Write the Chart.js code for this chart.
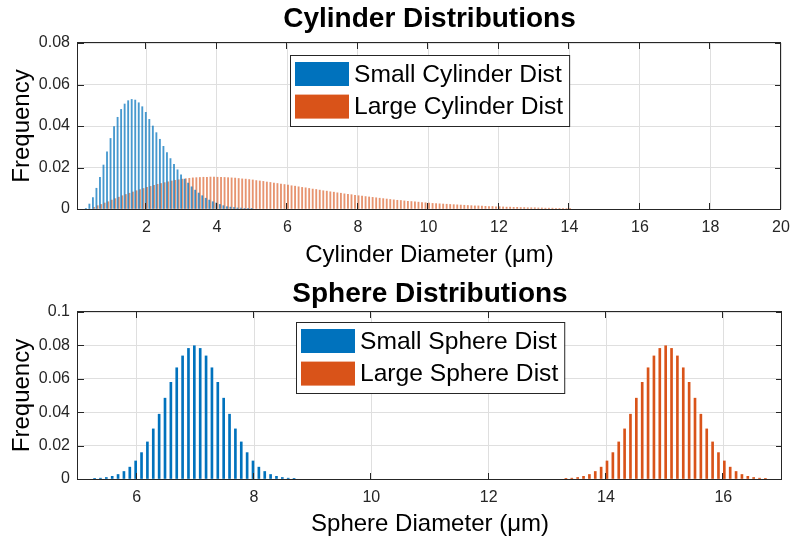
<!DOCTYPE html>
<html>
<head>
<meta charset="utf-8">
<script src="https://cdn.jsdelivr.net/npm/chart.js@4.4.1/dist/chart.umd.min.js"></script>
<style>
  html, body { margin: 0; padding: 0; background: #fff; }
  #wrap { position: relative; width: 800px; height: 549px; overflow: hidden; }
  canvas { position: absolute; left: 0; }
</style>
</head>
<body>
<div id="wrap">
  <canvas id="graficoCilindros" width="800" height="270" style="top:0;width:800px;height:270px"></canvas>
  <canvas id="graficoEsferas" width="800" height="279" style="top:270px;width:800px;height:279px"></canvas>
</div>
<script>
// ---- dados ----
const cylSmallX = [
  0.3,0.4,0.5,0.6,0.7,0.8,0.9,1.0,1.1,1.2,
  1.3,1.4,1.5,1.6,1.7,1.8,1.9,2.0,2.1,2.2,
  2.3,2.4,2.5,2.6,2.7,2.8,2.9,3.0,3.1,3.2,
  3.3,3.4,3.5,3.6,3.7,3.8,3.9,4.0,4.1,4.2,
  4.3,4.4,4.5,4.6,4.7,4.8,4.9,5.0
];
const cylSmallY = [
  0.0003,0.0024,0.0055,0.0100,0.0153,0.0212,0.0276,0.0340,0.0397,0.0442,
  0.0480,0.0506,0.0522,0.0528,0.0525,0.0512,0.0493,0.0466,0.0432,0.0400,
  0.0368,0.0336,0.0302,0.0272,0.0243,0.0215,0.0189,0.0165,0.0144,0.0125,
  0.0107,0.0091,0.0077,0.0064,0.0052,0.0043,0.0035,0.0029,0.0022,0.0016,
  0.0011,0.0009,0.0007,0.0005,0.0004,0.0003,0.0002,0.0001
];
const cylLargeX = [
  0.5,0.6,0.7,0.8,0.9,1.0,1.1,1.2,1.3,1.4,
  1.5,1.6,1.7,1.8,1.9,2.0,2.1,2.2,2.3,2.4,
  2.5,2.6,2.7,2.8,2.9,3.0,3.1,3.2,3.3,3.4,
  3.5,3.6,3.7,3.8,3.9,4.0,4.1,4.2,4.3,4.4,
  4.5,4.6,4.7,4.8,4.9,5.0,5.1,5.2,5.3,5.4,
  5.5,5.6,5.7,5.8,5.9,6.0,6.1,6.2,6.3,6.4,
  6.5,6.6,6.7,6.8,6.9,7.0,7.1,7.2,7.3,7.4,
  7.5,7.6,7.7,7.8,7.9,8.0,8.1,8.2,8.3,8.4,
  8.5,8.6,8.7,8.8,8.9,9.0,9.1,9.2,9.3,9.4,
  9.5,9.6,9.7,9.8,9.9,10.0,10.1,10.2,10.3,10.4,
  10.5,10.6,10.7,10.8,10.9,11.0,11.1,11.2,11.3,11.4,
  11.5,11.6,11.7,11.8,11.9,12.0,12.1,12.2,12.3,12.4,
  12.5,12.6,12.7,12.8,12.9,13.0,13.1,13.2,13.3,13.4,
  13.5,13.6,13.7,13.8,13.9,14.0
];
const cylLargeY = [
  0.0008,0.0016,0.0022,0.0029,0.0035,0.0043,0.0050,0.0057,0.0064,0.0070,
  0.0076,0.0082,0.0088,0.0093,0.0099,0.0104,0.0109,0.0114,0.0119,0.0123,
  0.0127,0.0131,0.0135,0.0138,0.0141,0.0144,0.0146,0.0148,0.0150,0.0151,
  0.0152,0.0153,0.0153,0.0154,0.0154,0.0153,0.0153,0.0152,0.0151,0.0150,
  0.0149,0.0147,0.0145,0.0144,0.0142,0.0140,0.0137,0.0135,0.0133,0.0130,
  0.0128,0.0125,0.0123,0.0120,0.0118,0.0115,0.0112,0.0110,0.0107,0.0104,
  0.0102,0.0099,0.0096,0.0094,0.0091,0.0088,0.0086,0.0083,0.0081,0.0078,
  0.0076,0.0073,0.0071,0.0069,0.0066,0.0064,0.0062,0.0060,0.0058,0.0056,
  0.0054,0.0052,0.0050,0.0048,0.0046,0.0044,0.0042,0.0041,0.0039,0.0037,
  0.0036,0.0034,0.0033,0.0031,0.0030,0.0029,0.0027,0.0026,0.0025,0.0024,
  0.0023,0.0022,0.0021,0.0020,0.0019,0.0018,0.0017,0.0016,0.0015,0.0015,
  0.0014,0.0013,0.0012,0.0012,0.0011,0.0011,0.0010,0.0009,0.0009,0.0008,
  0.0008,0.0007,0.0007,0.0006,0.0006,0.0006,0.0005,0.0005,0.0004,0.0004,
  0.0004,0.0003,0.0003,0.0003,0.0002,0.0002
];
const sphSmallX = [
  5.3,5.4,5.5,5.6,5.7,5.8,5.9,6.0,6.1,6.2,6.3,6.4,6.5,6.6,6.7,6.8,6.9,
  7.0,7.1,7.2,7.3,7.4,7.5,7.6,7.7,7.8,7.9,8.0,8.1,8.2,8.3,8.4,8.5,8.6,8.7
];
const sphSmallY = [
  0.0002,0.0005,0.0009,0.0016,0.0027,0.0045,0.0071,0.0108,0.0158,0.0222,0.0300,0.0388,0.0484,0.0579,0.0666,0.0737,0.0782,
  0.0798,0.0782,0.0737,0.0666,0.0579,0.0484,0.0388,0.0300,0.0222,0.0158,0.0108,0.0071,0.0045,0.0027,0.0016,0.0009,0.0005,0.0002
];
const sphLargeX = [
  13.3,13.4,13.5,13.6,13.7,13.8,13.9,14.0,14.1,14.2,14.3,14.4,14.5,14.6,14.7,14.8,14.9,
  15.0,15.1,15.2,15.3,15.4,15.5,15.6,15.7,15.8,15.9,16.0,16.1,16.2,16.3,16.4,16.5,16.6,16.7
];
const sphLargeY = [
  0.0002,0.0005,0.0009,0.0016,0.0027,0.0045,0.0071,0.0108,0.0158,0.0222,0.0300,0.0388,0.0484,0.0579,0.0666,0.0737,0.0782,
  0.0798,0.0782,0.0737,0.0666,0.0579,0.0484,0.0388,0.0300,0.0222,0.0158,0.0108,0.0071,0.0045,0.0027,0.0016,0.0009,0.0005,0.0002
];
const cylTicksX = [2, 4, 6, 8, 10, 12, 14, 16, 18, 20];
const cylTicksY = [0, 0.02, 0.04, 0.06, 0.08];
const sphTicksX = [6, 8, 10, 12, 14, 16];
const sphTicksY = [0, 0.02, 0.04, 0.06, 0.08, 0.1];

const AZUL = '#0072BD';
const LARANJA = '#D95319';
const FONTE = "'Liberation Sans', Arial, Helvetica, sans-serif";
Chart.defaults.font.family = FONTE;

// moldura estilo MATLAB: caixa, ticks para dentro, legenda e titulo
const molduraMatlab = {
  id: 'molduraMatlab',
  afterDraw(chart, args, opts) {
    const { ctx, chartArea: a, scales } = chart;
    ctx.save();
    ctx.strokeStyle = '#262626';
    ctx.lineWidth = 1;
    ctx.beginPath();
    scales.x.ticks.forEach(t => {
      const px = Math.round(scales.x.getPixelForValue(t.value)) - 0.5;
      ctx.moveTo(px, a.bottom); ctx.lineTo(px, a.bottom - 6);
      ctx.moveTo(px, a.top); ctx.lineTo(px, a.top + 6);
    });
    scales.y.ticks.forEach(t => {
      const py = Math.round(scales.y.getPixelForValue(t.value)) + 0.5;
      ctx.moveTo(a.left, py); ctx.lineTo(a.left + 6, py);
      ctx.moveTo(a.right, py); ctx.lineTo(a.right - 6, py);
    });
    ctx.stroke();
    ctx.strokeRect(a.left - 0.5, a.top - 0.5, a.right - a.left, a.bottom - a.top + 1);

    // legenda
    const itens = chart.data.datasets;
    ctx.font = opts.fonteLegenda + 'px ' + FONTE;
    const larguraTexto = Math.max(...itens.map(d => ctx.measureText(d.label).width));
    const w = 5 + 54 + 5 + larguraTexto + 6;
    const h = 71;
    const x0 = Math.round((a.left + a.right) / 2 - w / 2);
    const y0 = Math.round(a.top + opts.legendaTopo);
    ctx.fillStyle = '#fff';
    ctx.fillRect(x0, y0, w, h);
    ctx.strokeStyle = '#262626';
    ctx.strokeRect(x0 + 0.5, y0 + 0.5, w, h);
    itens.forEach((d, i) => {
      const yy = y0 + 7 + i * 32.6;
      ctx.fillStyle = d.corLegenda;
      ctx.fillRect(x0 + 5, yy, 54, 24);
      ctx.fillStyle = '#000';
      ctx.textBaseline = 'middle';
      ctx.textAlign = 'left';
      ctx.fillText(d.label, x0 + 64, yy + 13);
    });

    // titulo
    ctx.font = 'bold ' + opts.fonteTitulo + 'px ' + FONTE;
    ctx.fillStyle = '#000';
    ctx.textAlign = 'center';
    ctx.textBaseline = 'middle';
    ctx.fillText(opts.titulo, (a.left + a.right) / 2, opts.tituloY);
    ctx.restore();
  }
};

function montarGrafico(id, cfg) {
  return new Chart(document.getElementById(id), {
    type: 'bar',
    data: {
      datasets: [
        { label: cfg.nomes[0], data: cfg.xs[0].map((x, i) => ({ x, y: cfg.ys[0][i] })), backgroundColor: cfg.cores[0], corLegenda: AZUL, barThickness: cfg.espessura },
        { label: cfg.nomes[1], data: cfg.xs[1].map((x, i) => ({ x, y: cfg.ys[1][i] })), backgroundColor: cfg.cores[1], corLegenda: LARANJA, barThickness: cfg.espessura }
      ]
    },
    plugins: [molduraMatlab],
    options: {
      responsive: false,
      maintainAspectRatio: false,
      animation: false,
      layout: { padding: { top: cfg.topo, right: cfg.direita, left: 0, bottom: 0 } },
      plugins: {
        legend: { display: false },
        tooltip: { enabled: false },
        molduraMatlab: { titulo: cfg.titulo, tituloY: cfg.tituloY, fonteTitulo: 28, fonteLegenda: 24.6, legendaTopo: cfg.legendaTopo }
      },
      scales: {
        x: {
          type: 'linear',
          min: cfg.xMin, max: cfg.xMax,
          offset: false,
          afterBuildTicks: s => { s.ticks = cfg.ticksX.map(v => ({ value: v })); },
          afterFit: s => { s.height = cfg.alturaX; },
          grid: { color: '#dfdfdf', drawTicks: false, offset: false },
          border: { display: false },
          ticks: { padding: 9, color: '#262626', font: { size: 16 }, maxRotation: 0, autoSkip: false },
          title: { display: true, text: cfg.rotuloX, color: '#000', font: { size: 24, lineHeight: 1 }, padding: { top: 0, bottom: cfg.folgaRotulo } }
        },
        y: {
          min: 0, max: cfg.yMax,
          afterBuildTicks: s => { s.ticks = cfg.ticksY.map(v => ({ value: v })); },
          afterFit: s => { s.width = 78; },
          grid: { color: '#dfdfdf', drawTicks: false },
          border: { display: false },
          ticks: { padding: 8, color: '#262626', font: { size: 16 }, callback: v => String(+v.toFixed(2)) },
          title: { display: true, text: 'Frequency', color: '#000', font: { size: 24, lineHeight: 1 }, padding: { top: 10, bottom: 0 } }
        }
      }
    }
  });
}

montarGrafico('graficoCilindros', {
  titulo: 'Cylinder Distributions', tituloY: 19,
  nomes: ['Small Cylinder Dist', 'Large Cylinder Dist'],
  cores: ['rgba(0,114,189,0.72)', 'rgba(217,83,25,0.62)'],
  xs: [cylSmallX, cylLargeX], ys: [cylSmallY, cylLargeY],
  xMin: 0.06, xMax: 20, yMax: 0.08,
  ticksX: cylTicksX, ticksY: cylTicksY,
  rotuloX: 'Cylinder Diameter (μm)',
  topo: 43, direita: 19, alturaX: 61, folgaRotulo: 3, legendaTopo: 12, espessura: 1.2
});

montarGrafico('graficoEsferas', {
  titulo: 'Sphere Distributions', tituloY: 24,
  nomes: ['Small Sphere Dist', 'Large Sphere Dist'],
  cores: [AZUL, LARANJA],
  xs: [sphSmallX, sphLargeX], ys: [sphSmallY, sphLargeY],
  xMin: 5, xMax: 17, yMax: 0.1,
  ticksX: sphTicksX, ticksY: sphTicksY,
  rotuloX: 'Sphere Diameter (μm)',
  topo: 42, direita: 18, alturaX: 70, folgaRotulo: 13, legendaTopo: 10, espessura: 2
});
</script>
</body>
</html>
